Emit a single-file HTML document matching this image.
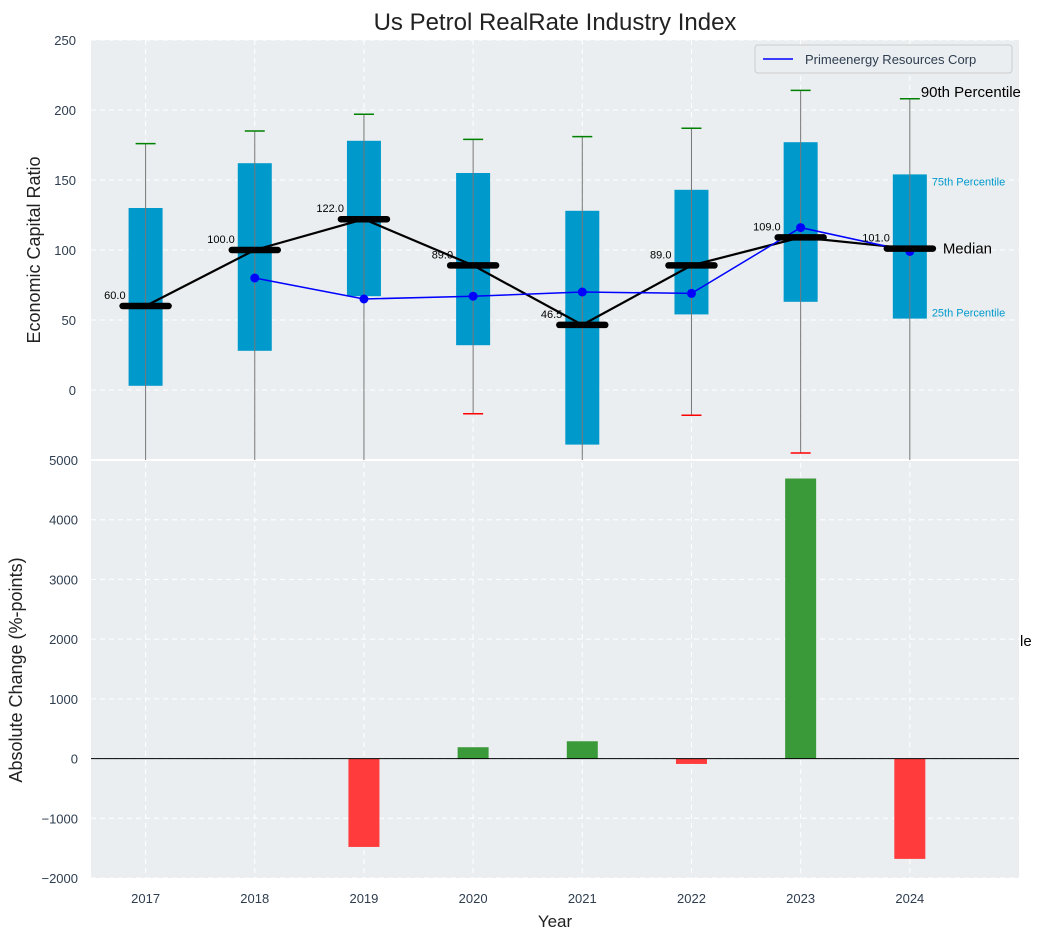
<!DOCTYPE html>
<html><head><meta charset="utf-8"><style>
body{margin:0;background:#fff;font-family:"Liberation Sans",sans-serif}
svg text{font-family:"Liberation Sans",sans-serif}
</style></head><body>
<svg id="c" width="1043" height="940" xmlns="http://www.w3.org/2000/svg"></svg>
<script>
const years=[2017,2018,2019,2020,2021,2022,2023,2024];
const q1=[3,28,67,32,-39,54,63,51];
const q3=[130,162,178,155,128,143,177,154];
const medians=[60,100,122,89,46.5,89,109,101];
const p90=[176,185,197,179,181,187,214,208];
const p10=[-80,-80,-80,-17,-80,-18,-45,-80];
const companyVals=[null,80,65,67,70,69,116,99];
const changeVals=[0,0,-1480,190,290,-90,4690,-1680];
const topTicks=[0,50,100,150,200,250];
const botTicks=[-2000,-1000,0,1000,2000,3000,4000,5000];

const NS="http://www.w3.org/2000/svg";
const svg=document.getElementById('c');
function el(t,a,txt,parent){const e=document.createElementNS(NS,t);for(const k in a)e.setAttribute(k,a[k]);if(txt!=null)e.textContent=txt;(parent||svg).appendChild(e);return e;}
const L=91,R=1019;
const x=v=>L+(v-2016.5)/(8.5)*(R-L);
const yT=v=>40+(250-v)/300*420;
const yB=v=>460+(5000-v)/7000*418;

const defs=el('defs',{});
const cp=el('clipPath',{id:'ct'},null,defs);el('rect',{x:L,y:40,width:R-L,height:420},null,cp);
const cb=el('clipPath',{id:'cb'},null,defs);el('rect',{x:L,y:460,width:R-L,height:418},null,cb);

let t=el('text',{x:1020,y:646,'font-size':15,fill:'#000'},'le');


let bg=el('rect',{x:L,y:40,width:R-L,height:420,fill:'#eaeef0'});

bg=el('rect',{x:L,y:461,width:R-L,height:417,fill:'#eaeef0'});


const grid={stroke:'#fff','stroke-dasharray':'5,4','stroke-width':1};
topTicks.forEach(v=>{el('line',Object.assign({x1:L,x2:R,y1:yT(v),y2:yT(v)},grid));
 const tl=el('text',{x:76,y:yT(v)+5,'font-size':13,fill:'#2e3d4f','text-anchor':'end'},v);
 });
botTicks.forEach(v=>{el('line',Object.assign({x1:L,x2:R,y1:yB(v),y2:yB(v)},grid));
 const tl=el('text',{x:78,y:yB(v)+5,'font-size':13,fill:'#2e3d4f','text-anchor':'end'},v<0?'\u2212'+(-v):v);
 });
years.forEach(yr=>{el('line',Object.assign({x1:x(yr),x2:x(yr),y1:40,y2:878},grid));
 const tl=el('text',{x:x(yr),y:903,'font-size':13,fill:'#2e3d4f','text-anchor':'middle'},yr);
 });
el('line',{x1:L,x2:R,y1:460,y2:460,stroke:'#fff','stroke-width':2});

const gt=el('g',{'clip-path':'url(#ct)'});
years.forEach((yr,i)=>{const cx=x(yr);
 const b=el('rect',{x:cx-17,y:yT(q3[i]),width:34,height:yT(q1[i])-yT(q3[i]),fill:'#0099cc'},null,gt);
 
 el('line',{x1:cx,x2:cx,y1:yT(p90[i]),y2:yT(p10[i]),stroke:'#777','stroke-width':1},null,gt);
 const c1=el('line',{x1:cx-10,x2:cx+10,y1:yT(p90[i]),y2:yT(p90[i]),stroke:'green','stroke-width':1.5},null,gt);
 
 const c2=el('line',{x1:cx-10,x2:cx+10,y1:yT(p10[i]),y2:yT(p10[i]),stroke:'red','stroke-width':1.5},null,gt);
 
});
let d=years.map((yr,i)=>(i?'L':'M')+x(yr)+','+yT(medians[i])).join('');
let ml=el('path',{d:d,fill:'none',stroke:'#000','stroke-width':2.2},null,gt);

const pts=years.map((yr,i)=>companyVals[i]==null?null:[x(yr),yT(companyVals[i])]).filter(p=>p);
let cl=el('path',{d:pts.map((p,i)=>(i?'L':'M')+p[0]+','+p[1]).join(''),fill:'none',stroke:'#0000ff','stroke-width':1.5},null,gt);

pts.forEach(p=>{const m=el('circle',{cx:p[0],cy:p[1],r:4.5,fill:'#0000ff'},null,gt);
 });
years.forEach((yr,i)=>{const cx=x(yr);
 const mb=el('line',{x1:cx-23,x2:cx+23,y1:yT(medians[i]),y2:yT(medians[i]),stroke:'#000','stroke-width':6.5,'stroke-linecap':'round'},null,gt);
 
 const ml2=el('text',{x:cx-20,y:yT(medians[i])-7,'font-size':11,fill:'#000','text-anchor':'end'},medians[i].toFixed(1));
 
});
const last=years.length-1, lx=x(years[last]);
[['90th Percentile',p90[last],'#000',15,lx+11,-2],['75th Percentile',q3[last],'#0099cc',11,lx+22,11],['Median',medians[last],'#000',15,lx+33,5],['25th Percentile',q1[last],'#0099cc',11,lx+22,-2]].forEach(a=>{
 const tt=el('text',{x:a[4],y:yT(a[1])+a[5],'font-size':a[3],fill:a[2]},a[0]);
 });

const lg=el('g',{});
el('rect',{x:755,y:45,width:257,height:28,rx:3,fill:'#eaeef0',stroke:'#ccc'},null,lg);
el('line',{x1:763,x2:793,y1:59,y2:59,stroke:'#0000ff','stroke-width':1.5},null,lg);
el('text',{x:805,y:64,'font-size':13,fill:'#2e3d4f'},'Primeenergy Resources Corp',lg);

const gb=el('g',{'clip-path':'url(#cb)'});
years.forEach((yr,i)=>{const v=changeVals[i];if(!v)return;
 const b=el('rect',{x:x(yr)-15.5,y:Math.min(yB(v),yB(0)),width:31,height:Math.abs(yB(v)-yB(0)),fill:v>0?'#3a9a3a':'#ff3b3b'},null,gb);
 });
el('line',{x1:L,x2:R,y1:yB(0),y2:yB(0),stroke:'#000','stroke-width':1});

t=el('text',{x:555,y:30,'font-size':24,fill:'#222','text-anchor':'middle'},'Us Petrol RealRate Industry Index');

t=el('text',{x:40,y:250,'font-size':18,fill:'#222','text-anchor':'middle',transform:'rotate(-90 40 250)'},'Economic Capital Ratio');

t=el('text',{x:22,y:670,'font-size':18,fill:'#222','text-anchor':'middle',transform:'rotate(-90 22 670)'},'Absolute Change (%-points)');

t=el('text',{x:555,y:927,'font-size':17,fill:'#222','text-anchor':'middle'},'Year');

</script>
</body></html>
